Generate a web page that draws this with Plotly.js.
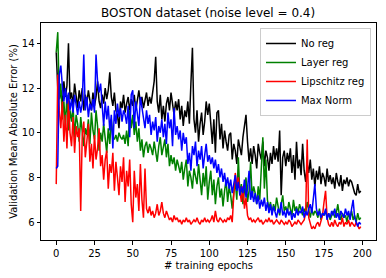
<!DOCTYPE html>
<html>
<head>
<meta charset="utf-8">
<script src="https://cdn.plot.ly/plotly-3.0.1.min.js"></script>
<style>html,body{margin:0;padding:0;background:#fff;}#chart{width:386px;height:278px;}</style>
</head>
<body>
<div id="chart"></div>
<script>
const seriesNames = ["No reg", "Layer reg", "Lipschitz reg", "Max Norm"];
const seriesColors = ["#000000", "#008000", "#ff0000", "#0000ff"];
const xTicks = [0, 25, 50, 75, 100, 125, 150, 175, 200];
const yTicks = [6, 8, 10, 12, 14];

const noReg = [
13.6,12.0,11.5,11.9,11.2,12.3,11.6,12.1,14.0,11.5,
11.8,11.2,12.2,11.6,11.1,11.9,11.4,12.0,11.0,11.7,
11.3,11.9,11.5,11.0,11.8,11.2,11.6,12.3,11.4,11.1,
11.7,11.3,12.0,11.5,11.9,12.7,11.6,11.2,11.8,11.0,
10.8,10.2,11.4,11.1,11.7,10.9,11.3,11.6,11.0,11.5,
11.2,11.7,11.0,11.4,11.9,11.3,11.6,11.1,11.5,11.8,
11.2,11.6,11.3,11.9,12.3,13.4,11.4,10.9,11.7,10.6,
11.2,10.5,11.3,11.6,11.0,11.8,11.3,10.8,11.4,11.0,
11.5,10.6,11.2,10.3,11.0,10.7,11.4,10.4,12.2,13.8,
10.6,10.0,11.0,9.6,10.4,10.9,9.9,10.5,11.4,10.8,
11.3,10.2,9.5,10.6,9.1,10.9,11.0,9.7,10.4,9.3,
10.1,9.6,9.2,9.9,10.0,8.8,9.5,9.2,8.6,9.7,
9.4,9.0,9.8,10.3,10.8,9.6,8.7,9.3,8.6,9.4,
9.0,8.4,9.5,9.1,8.8,9.6,8.5,9.2,8.9,8.3,
9.1,8.6,9.4,8.8,9.3,8.7,10.1,7.2,8.9,9.2,
8.5,9.1,8.7,9.3,8.2,9.0,7.9,9.6,8.4,8.8,
8.1,9.5,8.3,7.8,8.6,8.2,8.8,7.9,8.4,7.6,
8.3,7.9,8.5,7.7,8.2,8.0,7.6,8.4,7.8,8.1,
7.7,8.0,7.5,8.2,7.8,7.6,8.1,7.4,7.9,7.7,
8.0,7.6,7.9,7.8,7.5,7.3,7.2,7.7,7.3,7.4
];

const layerReg = [
13.6,14.5,11.5,12.2,10.6,11.4,10.3,11.7,10.1,11.0,
10.5,11.2,9.8,10.8,10.4,9.6,10.7,10.0,9.4,10.2,
9.9,10.6,9.5,10.9,10.1,9.7,11.0,10.3,9.2,10.0,
9.6,10.4,9.8,9.1,10.2,9.5,10.6,9.8,9.7,9.9,
9.6,10.0,9.8,9.7,9.9,9.5,10.1,9.4,11.0,10.2,
10.8,9.9,10.5,9.6,10.2,9.2,9.7,8.9,9.4,9.6,
9.1,9.5,9.3,9.0,9.6,9.2,8.7,9.4,9.8,9.0,
9.3,9.7,8.9,9.5,8.5,9.0,8.6,8.9,8.3,8.8,
8.5,8.2,8.7,7.9,8.4,8.8,7.6,8.3,8.0,7.5,
8.4,8.1,7.7,8.6,7.9,7.2,8.2,7.6,8.5,7.0,
7.8,8.3,7.2,7.9,6.8,7.6,8.0,7.1,7.5,6.7,
7.4,7.9,6.9,7.6,7.2,6.6,7.3,7.8,7.0,8.9,
7.2,7.7,6.8,7.5,8.0,6.9,7.4,8.7,7.1,7.6,
7.3,6.8,7.6,7.0,8.3,9.8,7.5,8.8,7.0,6.6,
6.9,6.4,6.8,6.5,7.1,6.6,6.3,6.8,7.2,6.5,
6.7,6.4,6.9,6.6,6.3,7.0,6.5,6.7,6.4,6.8,
6.5,6.3,6.6,6.4,6.9,6.5,6.2,6.6,6.3,6.5,
6.4,6.2,6.6,6.1,6.4,6.3,6.5,6.2,6.4,6.1,
6.3,6.5,6.2,6.4,6.8,6.3,6.1,6.4,6.2,6.3,
6.0,6.4,6.2,6.5,6.1,6.3,6.0,6.4,6.1,6.2
];

const lipschitzReg = [
7.7,12.6,11.0,10.2,11.4,9.6,10.8,9.3,11.5,10.0,
9.4,10.7,9.1,10.3,9.8,10.2,6.5,9.9,10.5,8.9,
9.6,10.4,8.7,9.5,8.4,9.9,8.8,9.3,10.2,8.5,
9.0,7.9,8.8,9.2,7.5,8.6,8.2,9.1,7.4,8.7,
8.0,7.2,8.5,7.8,8.9,6.9,8.3,7.6,8.8,6.8,
6.0,8.3,7.1,7.7,6.5,8.6,7.0,6.2,8.4,6.6,
6.4,6.7,6.3,6.5,6.2,6.4,6.8,6.3,6.5,6.9,
6.4,6.2,6.5,6.3,6.1,6.2,6.0,6.3,6.1,6.2,
6.0,6.1,5.9,6.1,6.0,6.2,6.0,6.1,5.9,6.0,
6.1,6.0,6.2,6.0,5.9,6.1,6.0,6.2,6.0,6.1,
6.0,6.1,6.3,6.0,6.5,6.1,6.0,6.2,6.1,6.0,
6.1,6.0,6.2,6.1,6.3,6.0,7.2,8.2,7.6,8.0,
7.4,6.9,7.6,6.6,7.1,6.3,6.1,6.2,6.0,6.1,
6.0,6.1,6.2,6.0,6.1,5.9,6.0,6.1,6.0,6.2,
6.0,6.1,5.9,6.0,6.1,6.0,5.9,6.1,6.0,5.9,
6.0,5.9,6.1,6.0,5.8,5.9,6.0,5.9,6.1,6.0,
5.9,6.0,6.1,6.4,9.7,6.2,5.9,5.7,5.8,5.7,
5.9,6.0,5.8,6.1,6.3,6.9,7.4,6.2,5.9,5.8,
6.0,5.8,6.1,5.9,5.8,6.0,5.9,6.2,5.8,6.0,
5.9,6.1,5.8,6.0,5.9,5.8,6.0,5.8,5.7,5.8
];

const maxNorm = [
8.4,8.5,12.6,13.0,12.1,11.4,12.0,11.3,11.8,11.0,
11.5,10.9,11.7,11.2,10.8,11.4,10.9,11.3,13.5,11.0,
11.6,10.7,11.3,11.0,11.5,10.9,13.5,12.3,11.8,12.2,
11.0,10.3,11.4,10.6,11.2,10.1,10.8,9.3,11.0,10.4,
11.3,10.7,11.1,10.5,11.0,10.8,10.4,11.2,9.8,11.7,
11.9,10.2,11.4,10.9,10.3,11.6,11.1,10.7,10.2,11.0,
10.4,10.8,9.9,10.5,10.1,10.7,9.6,10.3,10.0,10.6,
9.8,10.4,9.5,10.9,10.2,10.6,9.4,11.1,9.9,10.3,
9.7,10.1,9.2,10.0,9.5,9.8,8.6,9.1,8.3,9.4,
9.0,9.6,8.5,9.2,8.8,9.4,8.4,9.0,9.5,8.7,
9.0,8.6,8.9,8.4,8.8,8.2,8.6,8.0,8.4,7.8,
8.2,7.6,8.0,7.5,7.9,7.3,7.7,8.1,7.4,7.8,
7.2,7.6,7.3,7.9,7.1,7.5,8.3,7.0,7.4,6.9,
7.3,6.8,7.2,6.6,7.0,6.7,7.1,6.5,6.9,6.4,
6.8,6.3,6.7,6.5,6.2,6.6,6.4,6.9,6.3,6.5,
6.2,6.6,6.3,6.5,6.1,6.4,6.2,6.6,6.3,6.5,
6.4,6.7,6.2,6.5,6.3,6.6,6.8,6.4,7.0,7.7,
6.6,6.3,6.5,6.2,6.4,6.3,6.6,6.1,6.4,6.2,
6.5,6.3,6.6,6.2,6.4,6.1,6.5,6.3,6.2,6.6,
6.3,6.5,6.1,6.6,7.0,6.2,6.0,5.8,6.0,5.9
];

const allSeries = [noReg, layerReg, lipschitzReg, maxNorm];
const epochs = noReg.map((_, i) => i);

const traces = allSeries.map((vals, k) => ({
  x: epochs,
  y: vals,
  type: "scatter",
  mode: "lines",
  name: seriesNames[k],
  line: {color: seriesColors[k], width: 1.5}
}));

const fontFam = "DejaVu Sans, sans-serif";
const axisCommon = {
  showgrid: false,
  zeroline: false,
  showline: true,
  mirror: true,
  linecolor: "#000",
  linewidth: 1,
  ticks: "outside",
  ticklen: 3.5,
  tickwidth: 1,
  tickcolor: "#000",
  tickfont: {family: fontFam, size: 10, color: "#000"}
};

const layout = {
  width: 386,
  height: 278,
  margin: {l: 41, r: 10, t: 23, b: 38, pad: 0},
  paper_bgcolor: "#fff",
  plot_bgcolor: "#fff",
  font: {family: fontFam, size: 10, color: "#000"},
  title: {
    text: "BOSTON dataset (noise level = 0.4)",
    font: {family: fontFam, size: 12, color: "#000"},
    x: 0.539, xanchor: "center",
    y: 0.955, yanchor: "middle"
  },
  xaxis: Object.assign({}, axisCommon, {
    range: [-9.95, 208.95],
    tickvals: xTicks,
    ticktext: xTicks.map(String),
    title: {text: "# training epochs", font: {family: fontFam, size: 10, color: "#000"}, standoff: 4}
  }),
  yaxis: Object.assign({}, axisCommon, {
    range: [5.2, 14.91],
    tickvals: yTicks,
    ticktext: yTicks.map(String),
    title: {text: "Validation Mean Absolute Error (%)", font: {family: fontFam, size: 10, color: "#000"}, standoff: 2}
  }),
  showlegend: true,
  legend: {
    x: 0.985, xanchor: "right",
    y: 0.977, yanchor: "top",
    bgcolor: "rgba(255,255,255,0.8)",
    bordercolor: "#cccccc",
    borderwidth: 1,
    font: {family: fontFam, size: 10, color: "#000"},
    tracegroupgap: 0
  }
};

Plotly.newPlot("chart", traces, layout, {displayModeBar: false, staticPlot: true});
</script>
</body>
</html>
